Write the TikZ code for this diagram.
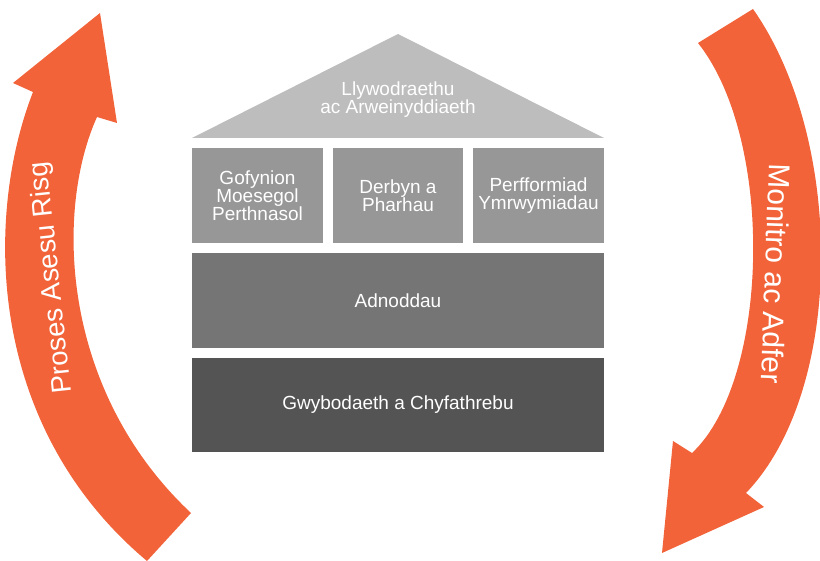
\documentclass[tikz,border=0pt]{standalone}
\usepackage{fontspec}
\setmainfont{Liberation Sans}
\definecolor{riskorange}{RGB}{242,99,57}
\definecolor{roofgrey}{RGB}{189,189,189}
\definecolor{pillargrey}{RGB}{151,151,151}
\definecolor{floorgrey}{RGB}{117,117,117}
\definecolor{basegrey}{RGB}{84,84,84}
\begin{document}
\begin{tikzpicture}[x=1pt,y=-1pt,
	block/.style={fill=#1,text=white,inner sep=0pt,align=center,font=\fontsize{19}{18}\selectfont},
	pillar/.style={block=pillargrey,minimum width=131pt,minimum height=95pt},
	loopfill/.style={fill=riskorange},
	looptext/.style={text=white,inner sep=0pt,font=\fontsize{#1}{#1}\selectfont}]
		\useasboundingbox (0,0) rectangle (820,561);
		% roof
		\fill[roofgrey] (192,138) -- (398,34) -- (604,138) -- cycle;
		\node[block=roofgrey] (roof) at (398,100) {Llywodraethu\\ac Arweinyddiaeth};
		% pillars
		\node[pillar] (moeseg) at (257.5,195.5) {Gofynion\\Moesegol\\Perthnasol};
		\node[pillar,minimum width=130pt] (derbyn) at (398,195.5) {Derbyn a\\Pharhau};
		\node[pillar] (perff) at (538.5,195.5) {Perfformiad\\Ymrwymiadau};
		% floors
		\node[block=floorgrey,minimum width=412pt,minimum height=95pt] (adnodd) at (398,300.5) {Adnoddau};
		\node[block=basegrey,minimum width=412pt,minimum height=94pt] (gwyb) at (398,405) {Gwybodaeth a Chyfathrebu};
		% left arrow, going up
		\fill[loopfill] (147,561) -- (191,513) .. controls (60,390) and (55,210) .. (97,117)
			-- (117,123) -- (100,13) -- (13,83) -- (33,92)
			.. controls (-15,215) and (-15,425) .. (147,561) -- cycle;
		\node[looptext=27.5,rotate=96] (proses) at (52,278) {Proses Asesu Risg};
		% right arrow, going down
		\fill[loopfill] (698,43) -- (753,9) .. controls (845,140) and (845,390) .. (746,493)
			-- (764,507) -- (662,553) -- (673,441) -- (692,453)
			.. controls (770,380) and (775,140) .. (698,43) -- cycle;
		\node[looptext=30,rotate=-92] (monitro) at (776,274) {Monitro ac Adfer};
	\end{tikzpicture}
\end{document}
